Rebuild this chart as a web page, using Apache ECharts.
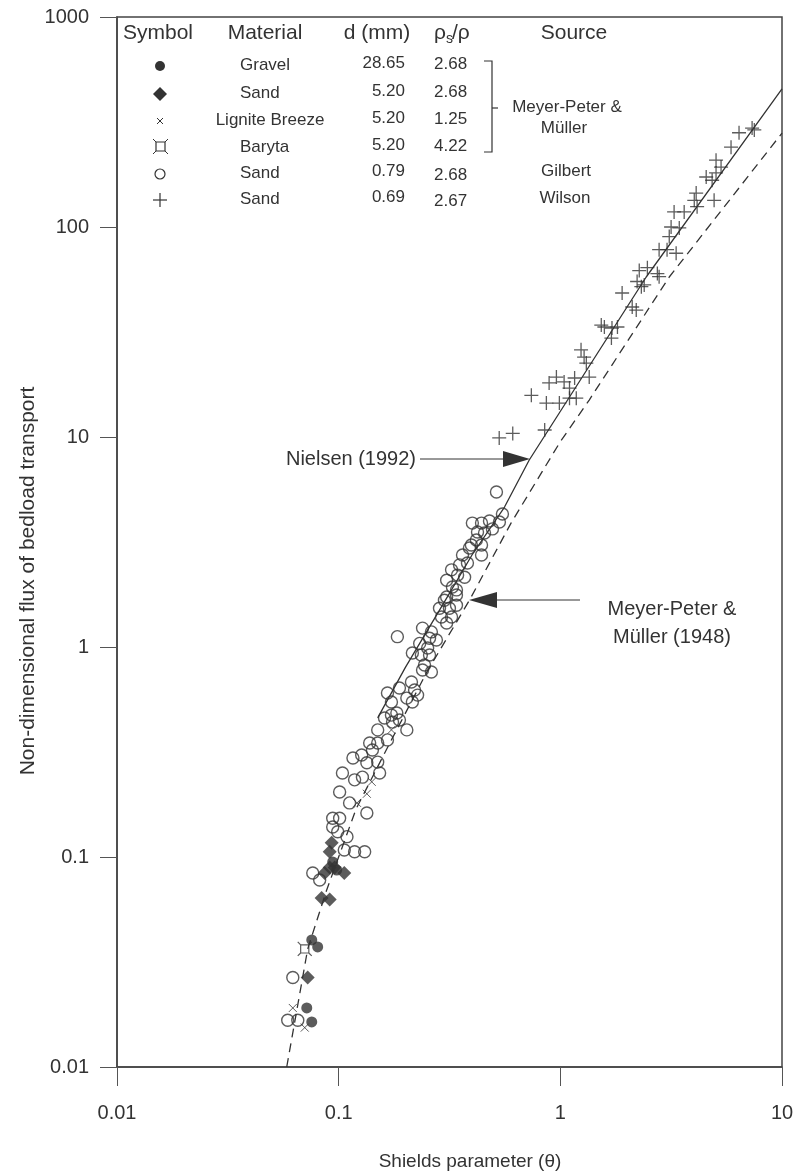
<!DOCTYPE html>
<html>
<head>
<meta charset="utf-8">
<script src="https://cdn.jsdelivr.net/npm/echarts@6/dist/echarts.min.js"></script>
<style>
html, body { margin: 0; padding: 0; background: #fff; }
#chart { width: 797px; height: 1174px; }
</style>
</head>
<body>
<div id="chart"></div>
<script>
// values: [Shields parameter, bedload flux]
const gilbertSand = [
  [0.515, 5.47], [0.548, 4.30], [0.401, 3.89], [0.441, 3.89], [0.479, 3.98], [0.531, 3.94],
  [0.494, 3.65], [0.423, 3.53], [0.455, 3.49], [0.418, 3.23], [0.397, 3.06], [0.441, 3.06],
  [0.441, 2.74], [0.362, 2.74], [0.389, 2.96], [0.351, 2.46], [0.381, 2.51], [0.323, 2.33],
  [0.344, 2.20], [0.370, 2.15], [0.307, 2.08], [0.326, 1.93], [0.340, 1.87], [0.307, 1.73],
  [0.340, 1.77], [0.300, 1.67], [0.285, 1.53], [0.316, 1.53], [0.340, 1.58], [0.291, 1.39],
  [0.323, 1.39], [0.307, 1.30], [0.184, 1.12], [0.239, 1.23], [0.262, 1.18], [0.232, 1.04],
  [0.257, 1.10], [0.276, 1.08], [0.252, 0.989], [0.215, 0.936], [0.236, 0.916], [0.257, 0.916],
  [0.239, 0.777], [0.262, 0.760], [0.244, 0.821], [0.188, 0.638], [0.213, 0.681], [0.220, 0.624],
  [0.227, 0.590], [0.166, 0.604], [0.173, 0.547], [0.203, 0.571], [0.215, 0.547], [0.161, 0.459],
  [0.173, 0.474], [0.183, 0.485], [0.188, 0.449], [0.175, 0.439], [0.203, 0.403], [0.150, 0.403],
  [0.166, 0.361], [0.138, 0.349], [0.150, 0.349], [0.142, 0.323], [0.116, 0.296], [0.127, 0.306],
  [0.134, 0.281], [0.150, 0.283], [0.104, 0.251], [0.118, 0.233], [0.128, 0.240], [0.153, 0.251],
  [0.101, 0.204], [0.112, 0.181], [0.134, 0.162], [0.094, 0.153], [0.101, 0.153], [0.094, 0.139],
  [0.099, 0.132], [0.109, 0.125], [0.106, 0.108], [0.118, 0.106], [0.131, 0.106], [0.0764, 0.0839],
  [0.0821, 0.0777], [0.0621, 0.0267], [0.0589, 0.0167], [0.0654, 0.0167]
]
const wilsonSand = [
  [7.33, 296], [7.5, 290], [6.40, 281], [5.89, 240], [5.04, 208], [5.31, 193], [4.55, 173],
  [4.84, 167], [5.04, 181], [4.10, 145], [4.02, 134], [4.14, 125], [4.94, 134], [3.26, 118],
  [3.62, 118], [3.16, 100], [3.44, 99], [3.10, 90], [2.79, 78], [3.03, 78], [3.33, 75],
  [2.27, 62], [2.47, 64], [2.74, 60], [2.79, 58], [2.22, 55], [2.32, 52], [2.39, 53],
  [1.90, 48.5], [2.11, 41.6], [2.20, 40.2], [1.53, 34.1], [1.58, 33.4], [1.71, 33.0],
  [1.81, 33.4], [1.70, 29.6], [1.24, 26], [1.28, 24], [1.31, 22.5], [0.89, 18.1], [0.96, 19.3],
  [1.04, 18.3], [1.16, 19.1], [1.35, 19.3], [1.10, 17.1], [0.74, 15.8], [0.865, 14.5],
  [0.99, 14.5], [1.10, 15.3], [1.18, 15.3], [0.85, 10.8], [0.53, 9.9], [0.61, 10.4]
]
const mpmGravel = [[0.094, 0.0947], [0.098, 0.0867], [0.0756, 0.0403], [0.0804, 0.0373], [0.0718, 0.0191], [0.0756, 0.0164]]
const mpmSand = [
  [0.093, 0.117], [0.0911, 0.106], [0.0911, 0.0891], [0.0959, 0.0891], [0.106, 0.0839],
  [0.0865, 0.0839], [0.0838, 0.0638], [0.0911, 0.0628], [0.0725, 0.0267]
]
const mpmLignite = [[0.0621, 0.0191], [0.0703, 0.0154], [0.121, 0.181], [0.134, 0.2], [0.141, 0.228], [0.173, 0.403]]
const mpmBaryta = [[0.0703, 0.0365]]

// the two transport curves
const nielsenCurve = [
  [0.15, 0.46], [0.2, 0.8], [0.3, 1.64], [0.4, 2.75], [0.56, 4.64],
  [0.724, 7.77], [2.44, 57.8], [10, 455]
]
const mpmCurve = [
  [0.0583, 0.01], [0.0725, 0.0365], [0.0883, 0.0697], [0.12, 0.17], [0.173, 0.361],
  [0.25, 0.76], [0.389, 1.67], [0.6, 3.9], [1.0, 9.5], [1.35, 15], [3.1, 57.8], [10, 280]
]

const xTickLabels = ['0.01', '0.1', '1', '10']
const yTickLabels = ['0.01', '0.1', '1', '10', '100', '1000']

const legendRows = [
  { material: 'Gravel', d: '28.65', ratio: '2.68' },
  { material: 'Sand', d: '5.20', ratio: '2.68' },
  { material: 'Lignite Breeze', d: '5.20', ratio: '1.25' },
  { material: 'Baryta', d: '5.20', ratio: '4.22' },
  { material: 'Sand', d: '0.79', ratio: '2.68' },
  { material: 'Sand', d: '0.69', ratio: '2.67' }
]

const INK = '#333'
const FONT = '"Liberation Sans", Arial, Helvetica, sans-serif'
const PLUS = 'path://M0,6L12,6M6,0L6,12'
const CROSS = 'path://M0,0L10,10M10,0L0,10'
const BARYTA = 'path://M0,0L2.5,2.5M12,0L9.5,2.5M12,12L9.5,9.5M0,12L2.5,9.5M2.5,2.5L9.5,2.5L9.5,9.5L2.5,9.5Z'

function txt(x, y, s, size, align) {
  return {
    type: 'text', x: x, y: y, z: 10,
    style: {
      text: s, fill: INK, font: size + 'px ' + FONT,
      textAlign: align || 'left', align: align || 'left',
      textVerticalAlign: 'middle', verticalAlign: 'middle'
    }
  }
}
function seg(x1, y1, x2, y2, w) {
  return { type: 'line', z: 10, shape: { x1: x1, y1: y1, x2: x2, y2: y2 }, style: { stroke: INK, lineWidth: w || 1.2 } }
}

const chart = echarts.init(document.getElementById('chart'))

// legend table
const g = []
const rowY = [65, 93, 120, 147, 173, 199]
g.push(txt(158, 33, 'Symbol', 21, 'center'))
g.push(txt(265, 33, 'Material', 21, 'center'))
g.push(txt(377, 33, 'd (mm)', 21, 'center'))
g.push(txt(434, 33, 'ρ', 21, 'left'))
g.push(txt(446, 39, 's', 14, 'left'))
g.push(txt(452, 33, '/ρ', 21, 'left'))
g.push(txt(574, 33, 'Source', 21, 'center'))
legendRows.forEach(function (r, i) {
  const y = rowY[i]
  if (r.material === 'Lignite Breeze') g.push(txt(270, y, r.material, 17, 'center'))
  else g.push(txt(240, y, r.material, 17, 'left'))
  g.push(txt(405, y - 2, r.d, 17, 'right'))
  g.push(txt(434, y - 1 + (i >= 4 ? 3 : 0), r.ratio, 17, 'left'))
})
// legend symbols
g.push({ type: 'circle', z: 10, shape: { cx: 160, cy: 66, r: 5 }, style: { fill: INK } })
g.push({ type: 'polygon', z: 10, shape: { points: [[160, 87], [167, 94], [160, 101], [153, 94]] }, style: { fill: INK } })
g.push(seg(157, 118, 163, 124, 1))
g.push(seg(163, 118, 157, 124, 1))
g.push({ type: 'rect', z: 10, shape: { x: 156, y: 142, width: 9, height: 9 }, style: { fill: 'none', stroke: INK, lineWidth: 1.2 } })
g.push(seg(153, 139, 156, 142, 1), seg(168, 139, 165, 142, 1), seg(153, 154, 156, 151, 1), seg(168, 154, 165, 151, 1))
g.push({ type: 'circle', z: 10, shape: { cx: 160, cy: 174, r: 5 }, style: { fill: 'none', stroke: INK, lineWidth: 1.2 } })
g.push(seg(153, 200, 167, 200, 1.2), seg(160, 193, 160, 207, 1.2))
// bracket and sources
g.push({ type: 'polyline', z: 10, shape: { points: [[484, 61], [492, 61], [492, 152], [484, 152]] }, style: { stroke: INK, lineWidth: 1.2, fill: 'none' } })
g.push(seg(492, 108, 498, 108, 1.2))
g.push(txt(567, 107, 'Meyer-Peter &', 17, 'center'))
g.push(txt(564, 128, 'Müller', 17, 'center'))
g.push(txt(566, 171, 'Gilbert', 17, 'center'))
g.push(txt(565, 198, 'Wilson', 17, 'center'))
// annotations with arrows
g.push(txt(416, 459, 'Nielsen (1992)', 20, 'right'))
g.push(seg(420, 459, 505, 459, 1))
g.push({ type: 'polygon', z: 10, shape: { points: [[503, 451], [530, 459], [503, 467]] }, style: { fill: INK } })
g.push(seg(496, 600, 580, 600, 1))
g.push({ type: 'polygon', z: 10, shape: { points: [[497, 592], [469, 600], [497, 608]] }, style: { fill: INK } })
g.push(txt(672, 609, 'Meyer-Peter &', 20, 'center'))
g.push(txt(672, 637, 'Müller (1948)', 20, 'center'))
// axis titles
g.push(txt(470, 1162, 'Shields parameter (θ)', 19, 'center'))
const yTitle = txt(28, 581, 'Non-dimensional flux of bedload transport', 21, 'center')
yTitle.rotation = Math.PI / 2
g.push(yTitle)

function tickName(list, offset) {
  return function (v) {
    const i = Math.round(Math.log10(v)) + offset
    return list[i] || ''
  }
}

function dots(name, data, symbol, size, filled, width) {
  return {
    name: name, type: 'scatter', data: data, symbol: symbol, symbolSize: size, z: 5,
    itemStyle: {
      color: filled ? INK : 'rgba(0,0,0,0)', borderColor: INK, borderWidth: filled ? 0 : width
    },
    emphasis: { disabled: true }, silent: true
  }
}

const option = {
  animation: false,
  backgroundColor: '#fff',
  grid: { left: 117, right: 15, top: 17, bottom: 107, show: true, borderColor: '#444', borderWidth: 1.5 },
  xAxis: {
    type: 'log', logBase: 10, min: 0.01, max: 10,
    axisLine: { show: true, onZero: false, lineStyle: { color: '#444', width: 1.5 } },
    axisTick: { show: true, inside: false, length: 19, lineStyle: { color: '#555', width: 1 } },
    minorTick: { show: false }, splitLine: { show: false },
    axisLabel: {
      formatter: tickName(xTickLabels, 2), margin: 36, color: INK, fontSize: 20, fontFamily: FONT,
      showMinLabel: true, showMaxLabel: true
    }
  },
  yAxis: {
    type: 'log', logBase: 10, min: 0.01, max: 1000,
    axisLine: { show: true, onZero: false, lineStyle: { color: '#444', width: 1.5 } },
    axisTick: { show: true, inside: false, length: 17, lineStyle: { color: '#555', width: 1 } },
    minorTick: { show: false }, splitLine: { show: false },
    axisLabel: {
      formatter: tickName(yTickLabels, 2), margin: 28, color: INK, fontSize: 20, fontFamily: FONT,
      showMinLabel: true, showMaxLabel: true
    }
  },
  graphic: g,
  series: [
    {
      name: 'Meyer-Peter & Müller (1948)', type: 'line', data: mpmCurve, showSymbol: false, symbol: 'none',
      lineStyle: { color: INK, width: 1.3, type: [9, 6] }, z: 3, silent: true
    },
    {
      name: 'Nielsen (1992)', type: 'line', data: nielsenCurve, showSymbol: false, symbol: 'none',
      lineStyle: { color: INK, width: 1.3 }, z: 3, silent: true
    },
    dots('Gilbert sand', gilbertSand, 'circle', 12, false, 1.4),
    dots('Wilson sand', wilsonSand, PLUS, 14, false, 1.3),
    dots('Gravel', mpmGravel, 'circle', 11, true, 0),
    dots('Sand', mpmSand, 'diamond', 14, true, 0),
    dots('Lignite Breeze', mpmLignite, CROSS, 8, false, 1),
    dots('Baryta', mpmBaryta, BARYTA, 14, false, 1.2)
  ]
}

chart.setOption(option)
</script>
</body>
</html>
